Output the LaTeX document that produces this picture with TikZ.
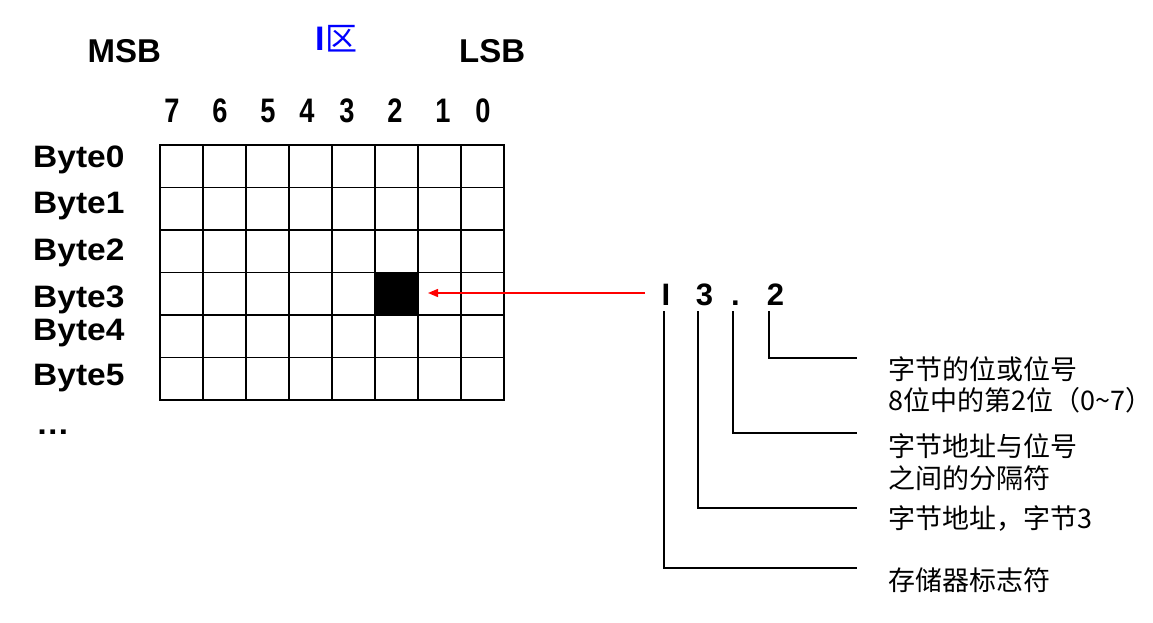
\documentclass[tikz,border=0pt]{standalone}
\usepackage{fontspec}
\setmainfont{Liberation Sans}
\newfontfamily\cjk{Noto Sans CJK SC}
\usetikzlibrary{arrows.meta}
\begin{document}
\begin{tikzpicture}[x=1pt,y=-1pt,
  hdr/.style={font=\bfseries\fontsize{33}{36}\selectfont, inner sep=0, anchor=base west},
  bitnum/.style={font=\bfseries\fontsize{34}{36}\selectfont, inner sep=0, anchor=base, xscale=0.8},
  bytelab/.style={font=\bfseries\fontsize{31}{34}\selectfont, inner sep=0, anchor=base west, xscale=1.08},
  addr/.style={font=\bfseries\fontsize{31}{34}\selectfont, inner sep=0, anchor=base},
  note/.style={font=\cjk\fontsize{27}{30}\selectfont, inner sep=0, anchor=base west},
  gridin/.style={line width=1.4pt},
  gridout/.style={line width=2pt},
  lead/.style={line width=1.3pt},
]
\useasboundingbox (0,0) rectangle (1153,622);
% headers
\node[hdr] (msb) at (87.5,62) {MSB};
\node[hdr] (lsb) at (459,62) {LSB};
\node[inner sep=0, anchor=base west, text=blue] (area) at (315,50)
  {\bfseries\fontsize{34}{36}\selectfont I\kern1pt{\cjk\mdseries\fontsize{32}{34}\selectfont 区}};
% bit numbers
\foreach \d/\x in {7/172,6/220,5/268,4/307,3/347,2/395,1/443,0/483}
  \node[bitnum] (b\d) at (\x,122) {\d};
% byte labels
\foreach \i/\y in {0/167,1/213,2/260,3/307,4/340,5/385}
  \node[bytelab] (byte\i) at (33,\y) {Byte\i};
\node[bytelab, xscale=1] (dots) at (36,434) {…};
% black bit cell
\node[fill=black, minimum width=43pt, minimum height=42.5pt, inner sep=0, anchor=north west] (bit) at (375,272.5) {};
% grid
\foreach \i in {1,...,7} \draw[gridin] (160+43*\i,145) -- (160+43*\i,400);
\foreach \j in {1,...,5} \draw[gridin] (160,145+42.5*\j) -- (504,145+42.5*\j);
\draw[gridout] (160,145) rectangle (504,400);
% address I3.2
\node[addr] (nI) at (666,305) {I};
\node[addr] (n3) at (704.5,305) {3};
\node[addr] (nd) at (735.5,305) {.};
\node[addr] (n2) at (775.5,305) {2};
% arrow
\coordinate (astart) at (645,293);
\coordinate (aend) at (428,293);
\draw[red, line width=1.4pt, -{Triangle[length=10pt,width=8pt]}] (astart) -- (aend);
% leader lines
\coordinate (sI) at (664,311);
\coordinate (s3) at (698,311);
\coordinate (sd) at (733,311);
\coordinate (s2) at (769,311);
\coordinate (e2) at (857,358);
\coordinate (ed) at (857,433);
\coordinate (e3) at (857,508);
\coordinate (eI) at (857,568);
\draw[lead] (s2) |- (e2);
\draw[lead] (sd) |- (ed);
\draw[lead] (s3) |- (e3);
\draw[lead] (sI) |- (eI);
% notes
\node[note] (l1a) at (888,379) {字节的位或位号};
\node[note] (l1b) at (888,410) {8位中的第2位（0\textasciitilde7）};
\node[note] (l2a) at (888,456) {字节地址与位号};
\node[note] (l2b) at (888,488) {之间的分隔符};
\node[note] (l3) at (888,528) {字节地址，字节3};
\node[note] (l4) at (888,590) {存储器标志符};
\end{tikzpicture}
\end{document}
